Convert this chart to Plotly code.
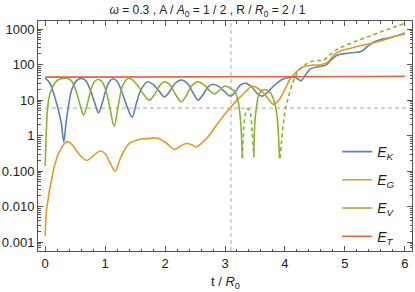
import plotly.graph_objects as go

# ---- data ----
tK = [0.00,0.08,0.16,0.23,0.27,0.31,0.35,0.39,0.44,0.52,0.60,0.68,0.76,0.83,0.89,0.95,1.01,1.07,1.13,1.20,
      1.28,1.36,1.45,1.52,1.60,1.71,1.80,1.90,1.99,2.08,2.17,2.27,2.37,2.46,2.55,2.64,2.72,2.80,2.90,3.00,
      3.09,3.18,3.26,3.34,3.44,3.53,3.62,3.70,3.78,3.87,3.95,4.05,4.15,4.21,4.27,4.34,4.42,4.55,4.68,4.78,
      4.87,5.00,5.15,5.28,5.38,5.47,5.60,5.70,5.85,6.00]
EK = [42,30,12,4.5,2.2,0.67,2.5,7,19,35,41,35,18,8,4.4,8,19,33,40,34,
      17,7,3.3,8,20,33,28,18,12.4,18,30,37,30,17,10,15,24,28,24,17,
      13,18,27,30,24,16,13,16,22,30,38,43,44,40,35,50,75,87,97,140,
      185,205,220,240,330,420,510,550,640,740]

tG = [0.000,0.010,0.025,0.040,0.070,0.100,0.140,0.180,0.220,0.270,0.320,0.370,0.430,0.500,0.600,0.700,0.800,0.920,
      1.000,1.100,1.170,1.250,1.330,1.400,1.490,1.600,1.750,1.880,2.020,2.160,2.250,2.360,2.450,2.520,2.600,2.720,
      2.830,2.970,3.090,3.200,3.340,3.450,3.540,3.620,3.720,3.810,3.900,3.980,4.090,4.200,4.310,4.450,4.600,4.720,
      4.820,4.950,5.100,5.250,5.400,5.550,5.700,5.850,6.000]
EG = [0.0015,0.004,0.009,0.0126,0.028,0.05,0.11,0.2,0.31,0.44,0.6,0.68,0.6,0.43,0.26,0.2,0.27,0.37,
      0.31,0.15,0.10,0.22,0.42,0.6,0.71,0.8,0.84,0.85,0.62,0.41,0.5,0.6,0.55,0.48,0.6,0.93,
      1.7,3.5,6.2,10,17,25,22,17,11,7.6,10,17,40,65,87,97,100,120,
      190,250,290,340,380,440,530,640,790]

# E_V: solid where positive, dashed (|E_V|) where negative
tV = [0.00,0.01,0.02,0.04,0.07,0.10,0.16,0.21,0.30,0.38,0.45,0.52,0.58,0.64,0.70,0.76,0.82,0.88,0.95,1.02,
      1.08,1.15,1.22,1.29,1.38,1.45,1.55,1.65,1.74,1.83,1.92,1.99,2.08,2.18,2.27,2.36,2.45,2.55,2.65,2.75,
      2.83,2.92,3.00,3.10,3.17,3.22,3.26,3.29,
      None,
      3.48,3.50,3.53,3.56,3.62,3.67,3.73,3.78,3.83,3.87,3.91]
EV = [0.14,0.5,1.5,6,13,19,30,37,41,41,33,17,7.5,3.8,7.5,19,33,38,33,17,
      6,1.85,7,25,41,38,25,14,10,15,27,33,27,14,9,14,26,33,27,18,
      15,20,25,21,17,9,2.7,0.23,
      None,
      0.25,2.7,7,14,19,20,18,14,8,3.4,0.23]
tVneg = [3.29,3.31,3.34,3.38,3.42,3.45,3.48,
         None,
         3.92,3.94,3.98,4.02,4.06,4.12,4.17,4.25,4.34,4.42,4.55,4.65,4.75,4.87,5.00,5.21,5.40,5.60,5.80,5.99]
EVneg = [0.23,1.5,4,5.8,4.5,1.5,0.25,
         None,
         0.23,0.6,2.7,7,12.4,28,45,75,100,120,130,135,190,270,340,480,620,840,1100,1450]

tT = [0.0,1.0,2.0,3.0,4.0,4.5,5.0,5.5,6.0]
ET = [44.5,44.5,44.5,44.5,44.8,45.5,46,46.5,47]

t_mark = 3.10
E_mark = 6

x_ticks = [0,1,2,3,4,5,6]
y_ticks = [0.001,0.01,0.1,1,10,100,1000]
y_ticktext = ["0.001","0.010","0.100","1","10","100","1000"]

C_K, C_G, C_V, C_T = "#5E81B5", "#E19C24", "#8FB032", "#EB6235"
FONT = "Liberation Sans, Arial, sans-serif"

fig = go.Figure()
lw = 1.6
fig.add_trace(go.Scatter(x=tK, y=EK, mode="lines", line=dict(color=C_K, width=lw, shape="spline", smoothing=0.9),
                         name="<i>E</i><sub><i>K</i></sub>", legendgroup="K"))
fig.add_trace(go.Scatter(x=tG, y=EG, mode="lines", line=dict(color=C_G, width=lw, shape="spline", smoothing=0.9),
                         name="<i>E</i><sub><i>G</i></sub>", legendgroup="G"))
fig.add_trace(go.Scatter(x=tV, y=EV, mode="lines", connectgaps=False,
                         line=dict(color=C_V, width=lw, shape="spline", smoothing=0.9),
                         name="<i>E</i><sub><i>V</i></sub>", legendgroup="V"))
fig.add_trace(go.Scatter(x=tVneg, y=EVneg, mode="lines", connectgaps=False,
                         line=dict(color=C_V, width=lw, shape="spline", smoothing=0.9, dash="4px,3px"),
                         showlegend=False, legendgroup="V"))
fig.add_trace(go.Scatter(x=tT, y=ET, mode="lines", line=dict(color=C_T, width=lw),
                         name="<i>E</i><sub><i>T</i></sub>", legendgroup="T"))

fig.add_vline(x=t_mark, line=dict(color="#BBBBBB", width=1.2, dash="4px,3px"), layer="below")
fig.add_hline(y=E_mark, line=dict(color="#BBBBBB", width=1.2, dash="4px,3px"), layer="below")

axis_common = dict(showline=True, linecolor="#555555", linewidth=1, mirror="ticks", ticks="inside",
                   tickcolor="#555555", showgrid=False, zeroline=False, automargin=False,
                   tickfont=dict(family=FONT, size=13, color="#222222"))

fig.update_xaxes(range=[-0.12, 6.12], tickvals=x_ticks, ticklen=5,
                 minor=dict(ticks="inside", ticklen=2.5, dtick=0.2, tickcolor="#555555"),
                 **axis_common)
fig.update_yaxes(type="log", range=[-3.25, 3.23], tickvals=y_ticks, ticktext=y_ticktext, ticklen=5,
                 minor=dict(ticks="inside", ticklen=2.5, dtick="D1", tickcolor="#555555"),
                 **axis_common)

fig.add_annotation(text="t / <i>R</i><sub>0</sub>", xref="paper", yref="paper", x=0.5, y=0,
                   yanchor="top", yshift=-21, showarrow=False,
                   font=dict(family=FONT, size=13, color="#222222"))

fig.update_layout(
    width=415, height=292,
    margin=dict(l=38, r=3, t=21, b=41),
    paper_bgcolor="white", plot_bgcolor="white",
    title=dict(text="<i>ω</i> = 0.3 , A / <i>A</i><sub>0</sub> = 1 / 2 , R / <i>R</i><sub>0</sub> = 2 / 1",
               x=0.5, xanchor="center", y=0.965, yanchor="middle", yref="container",
               font=dict(family=FONT, size=12, color="#222222")),
    legend=dict(x=0.80, xanchor="left", y=0.50, yanchor="top", bgcolor="rgba(0,0,0,0)",
                font=dict(family=FONT, size=14, color="#222222"), traceorder="grouped",
                tracegroupgap=7),
    showlegend=True,
)

fig.write_html("out.html", config={"displayModeBar": False},
               post_script="document.body.style.margin='0';document.body.style.padding='0';")
